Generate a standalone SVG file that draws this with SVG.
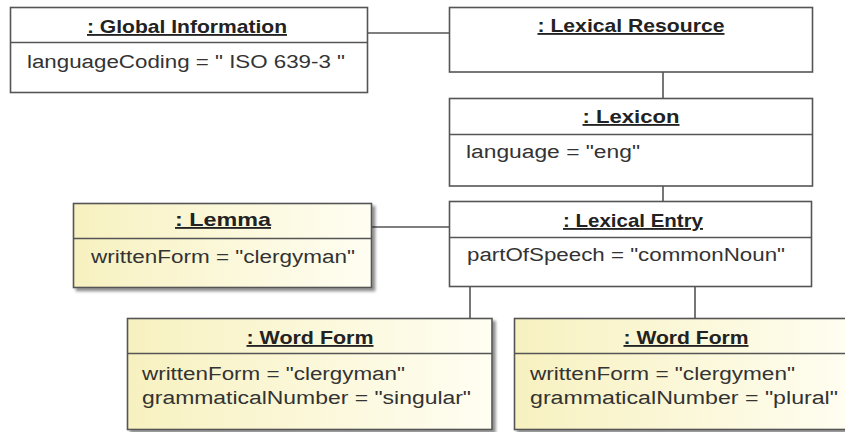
<svg xmlns="http://www.w3.org/2000/svg" width="845" height="432" viewBox="0 0 845 432">
  <defs>
    <linearGradient id="noteFill" x1="0" y1="0" x2="1" y2="0">
      <stop offset="0" stop-color="#f7f1c0"/>
      <stop offset="1" stop-color="#fffef2"/>
    </linearGradient>
    <filter id="shadow" x="-5%" y="-5%" width="115%" height="120%">
      <feGaussianBlur in="SourceAlpha" stdDeviation="1.5"/>
      <feOffset dx="3" dy="3" result="off"/>
      <feComponentTransfer><feFuncA type="linear" slope="0.45"/></feComponentTransfer>
      <feMerge><feMergeNode/><feMergeNode in="SourceGraphic"/></feMerge>
    </filter>
    <style>
      .box { fill: #ffffff; stroke: #555555; stroke-width: 1.6; }
      .note { fill: url(#noteFill); stroke: #555555; stroke-width: 1.6; filter: url(#shadow); }
      .div { stroke: #555555; stroke-width: 1.4; }
      .title { font-family: "Liberation Sans", Arial, sans-serif; font-weight: bold; font-size: 18.5px; fill: #222222; text-anchor: middle; text-decoration: underline; }
      .attr { font-family: "Liberation Sans", Arial, sans-serif; font-size: 18px; fill: #333333; }
      .link { stroke: #555555; stroke-width: 1.6; fill: none; }
    </style>
  </defs>
  <rect width="845" height="432" fill="#ffffff"/>

  <g id="connectors">
    <line class="link" x1="367" y1="33" x2="449" y2="33"/>
    <line class="link" x1="663" y1="72" x2="663" y2="98"/>
    <line class="link" x1="663" y1="186" x2="663" y2="201"/>
    <line class="link" x1="372" y1="227" x2="449" y2="227"/>
    <line class="link" x1="470" y1="287" x2="470" y2="318"/>
    <line class="link" x1="695" y1="287" x2="695" y2="318"/>
  </g>

  <g id="global-information">
    <rect class="box" x="10.5" y="7.5" width="357" height="85"/>
    <line class="div" x1="10.5" y1="42.5" x2="367.5" y2="42.5"/>
    <text class="title" x="187" y="33" textLength="200" lengthAdjust="spacingAndGlyphs">: Global Information</text>
    <text class="attr" x="27" y="68" textLength="318" lengthAdjust="spacingAndGlyphs">languageCoding = " ISO 639-3 "</text>
  </g>

  <g id="lexical-resource">
    <rect class="box" x="449.5" y="7.5" width="363" height="64.5"/>
    <text class="title" x="631" y="32" textLength="187" lengthAdjust="spacingAndGlyphs">: Lexical Resource</text>
  </g>

  <g id="lexicon">
    <rect class="box" x="449.5" y="98.5" width="363" height="87.5"/>
    <line class="div" x1="449.5" y1="134.5" x2="812.5" y2="134.5"/>
    <text class="title" x="631" y="123" textLength="97" lengthAdjust="spacingAndGlyphs">: Lexicon</text>
    <text class="attr" x="466" y="158" textLength="174" lengthAdjust="spacingAndGlyphs">language = "eng"</text>
  </g>

  <g id="lexical-entry">
    <rect class="box" x="449.5" y="201.5" width="362" height="85"/>
    <line class="div" x1="449.5" y1="237.5" x2="811.5" y2="237.5"/>
    <text class="title" x="633" y="227" textLength="140" lengthAdjust="spacingAndGlyphs">: Lexical Entry</text>
    <text class="attr" x="467" y="261" textLength="318" lengthAdjust="spacingAndGlyphs">partOfSpeech = "commonNoun"</text>
  </g>

  <g id="lemma">
    <rect class="note" x="73.5" y="203.5" width="298" height="84"/>
    <line class="div" x1="73.5" y1="238.5" x2="371.5" y2="238.5"/>
    <text class="title" x="223" y="226" textLength="96" lengthAdjust="spacingAndGlyphs">: Lemma</text>
    <text class="attr" x="91" y="263" textLength="264" lengthAdjust="spacingAndGlyphs">writtenForm = "clergyman"</text>
  </g>

  <g id="word-form-singular">
    <rect class="note" x="127.5" y="318.5" width="364.5" height="111"/>
    <line class="div" x1="127.5" y1="353.5" x2="492" y2="353.5"/>
    <text class="title" x="310" y="344" textLength="127" lengthAdjust="spacingAndGlyphs">: Word Form</text>
    <text class="attr" x="142" y="380" textLength="263" lengthAdjust="spacingAndGlyphs">writtenForm = "clergyman"</text>
    <text class="attr" x="142" y="404" textLength="329" lengthAdjust="spacingAndGlyphs">grammaticalNumber = "singular"</text>
  </g>

  <g id="word-form-plural">
    <rect class="note" x="514.5" y="318.5" width="345" height="111"/>
    <line class="div" x1="514.5" y1="353.5" x2="859.5" y2="353.5"/>
    <text class="title" x="686" y="344" textLength="125" lengthAdjust="spacingAndGlyphs">: Word Form</text>
    <text class="attr" x="530" y="380" textLength="265" lengthAdjust="spacingAndGlyphs">writtenForm = "clergymen"</text>
    <text class="attr" x="530" y="404" textLength="308" lengthAdjust="spacingAndGlyphs">grammaticalNumber = "plural"</text>
  </g>
</svg>
